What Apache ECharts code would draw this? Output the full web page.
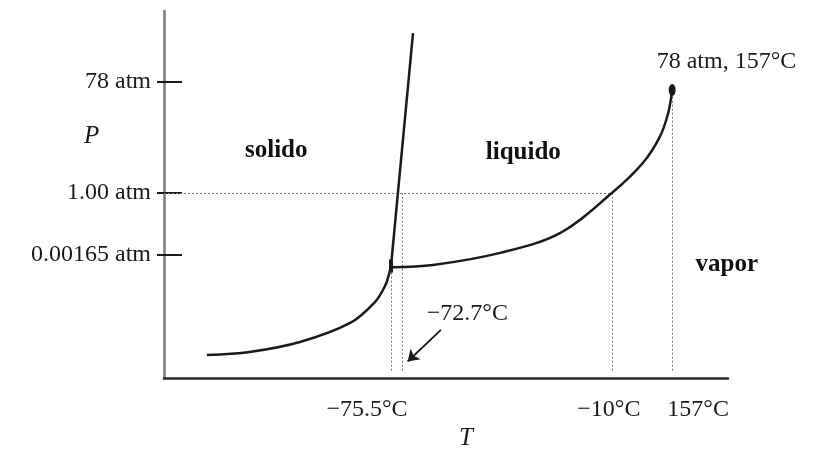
<!DOCTYPE html>
<html>
<head>
<meta charset="utf-8">
<script src="https://cdn.jsdelivr.net/npm/echarts@6/dist/echarts.min.js"></script>
<style>
  html, body { margin: 0; padding: 0; background: #fff; }
  #chart { width: 815px; height: 452px; }
</style>
</head>
<body>
<div id="chart"></div>
<script>
// schematic diagram: both axes use 0-100 "position" units, not real T / P
const tempLabels = ['\u221275.5\u00b0C', '\u221210\u00b0C', '157\u00b0C']
const tempPos = [40.25, 79.4, 90.1]
const meltLabel = '\u221272.7\u00b0C'
const meltPos = 42.2
const pressLabels = ['0.00165 atm', '1.00 atm', '78 atm']
const pressPos = [33.5, 50.4, 80.65]

const sublimation = [[7.6, 6.3], [15.2, 7.1], [24.1, 9.8], [33.0, 15.0], [37.4, 20.7], [39.2, 25.1], [39.9, 28.3], [40.25, 30.5]]
const fusion = [[40.25, 30.5], [44.15, 94.0]]
const vaporization = [[40.4, 30.2], [47.7, 30.8], [59.6, 34.1], [70.2, 39.5], [79.4, 50.4], [84.9, 58.6], [87.9, 65.7], [89.4, 72.2], [90.1, 78.5]]
const triplePoint = [40.25, 30.5]
const criticalPoint = [90.1, 78.5]
const criticalLabel = '78 atm, 157\u00b0C'

const phaseNames = ['solido', 'liquido', 'vapor']
const phaseX = [19.9, 63.7, 99.8]
const phaseY = [62.1, 61.3, 30.8]

const serif = 'Liberation Serif'
const ink = '#1a1a1a'

const chartDom = document.getElementById('chart')
const myChart = echarts.init(chartDom)

// dotted guide lines
const guides = [
  [[0, pressPos[1]], [tempPos[1], pressPos[1]]],
  [[tempPos[0], 2], triplePoint],
  [[meltPos, 2], [meltPos, pressPos[1]]],
  [[tempPos[1], 2], [tempPos[1], pressPos[1]]],
  [[tempPos[2], 2], criticalPoint]
]

const pickLabel = (labels, pos, v) => {
  const i = pos.findIndex(p => Math.abs(p - v) < 1e-6)
  return i < 0 ? '' : labels[i]
}

const curve = (data) => ({
  type: 'line',
  data: data,
  smooth: 0.35,
  symbol: 'none',
  lineStyle: { color: ink, width: 2.5 },
  z: 3
})

const textLabel = (extra) => Object.assign({
  show: true,
  fontFamily: serif,
  fontSize: 24,
  color: ink,
  opacity: 1
}, extra)

const option = {
  animation: false,
  grid: { left: 164, top: 11, right: 87, bottom: 74 },
  xAxis: {
    type: 'value',
    min: 0,
    max: 100,
    splitLine: { show: false },
    axisTick: { show: false },
    axisLine: { lineStyle: { color: '#2a2a2a', width: 2.5 } },
    axisLabel: {
      customValues: tempPos,
      margin: 20,
      formatter: (v) => {
        const i = tempPos.findIndex(p => Math.abs(p - v) < 1e-6)
        return '{t' + i + '|' + tempLabels[i] + '}'
      },
      rich: {
        t0: { fontFamily: serif, fontSize: 24, color: ink, padding: [0, 48, 0, 0] },
        t1: { fontFamily: serif, fontSize: 24, color: ink, padding: [0, 6, 0, 0] },
        t2: { fontFamily: serif, fontSize: 24, color: ink, padding: [0, 0, 0, 52] }
      }
    }
  },
  yAxis: [
    {
      type: 'value',
      position: 'left',
      min: 0,
      max: 100,
      splitLine: { show: false },
      axisLine: { lineStyle: { color: '#7a7a7a', width: 2.5 } },
      axisTick: { customValues: pressPos, length: 7, lineStyle: { color: ink, width: 2 } },
      axisLabel: {
        customValues: pressPos,
        margin: 13,
        fontFamily: serif,
        fontSize: 24,
        color: ink,
        formatter: (v) => pickLabel(pressLabels, pressPos, v)
      }
    },
    {
      type: 'value',
      position: 'left',
      offset: 0,
      min: 0,
      max: 100,
      splitLine: { show: false },
      axisLine: { show: false },
      axisTick: { customValues: pressPos, inside: true, length: 18, lineStyle: { color: ink, width: 2 } },
      axisLabel: { show: false }
    }
  ],
  graphic: [
    { type: 'text', left: 84, top: 124, style: { text: 'P', font: 'italic 25px "Liberation Serif"', fill: ink } },
    { type: 'text', left: 459, top: 426, style: { text: 'T', font: 'italic 25px "Liberation Serif"', fill: ink } }
  ],
  series: [
    {
      type: 'lines',
      coordinateSystem: 'cartesian2d',
      data: guides.map(c => ({ coords: c })),
      lineStyle: { color: '#777', width: 1, type: [2, 2], opacity: 1 },
      z: 1
    },
    curve(sublimation),
    curve(fusion),
    curve(vaporization),
    {
      type: 'scatter',
      data: [triplePoint],
      symbol: 'rect',
      symbolSize: [4, 13],
      itemStyle: { color: ink, opacity: 1 },
      z: 4
    },
    {
      type: 'scatter',
      data: [criticalPoint],
      symbol: 'circle',
      symbolSize: [7, 12],
      itemStyle: { color: ink, opacity: 1 },
      label: textLabel({
        position: [-12, -22],
        align: 'left',
        verticalAlign: 'middle',
        formatter: criticalLabel
      }),
      z: 4
    },
    {
      type: 'lines',
      coordinateSystem: 'cartesian2d',
      data: [{ coords: [[49.1, 13.1], [43.2, 4.5]] }],
      symbol: ['none', 'arrow'],
      symbolSize: 11,
      lineStyle: { color: ink, width: 1.8, opacity: 1 },
      z: 3
    },
    {
      type: 'scatter',
      data: [[46.6, 17.4]],
      symbolSize: 0,
      itemStyle: { opacity: 1 },
      label: textLabel({
        position: 'right',
        distance: 0,
        formatter: meltLabel
      })
    },
    {
      type: 'scatter',
      data: phaseNames.map((n, i) => ({ name: n, value: [phaseX[i], phaseY[i]] })),
      symbolSize: 0,
      clip: false,
      itemStyle: { opacity: 1 },
      label: textLabel({
        position: 'inside',
        formatter: '{b}',
        fontWeight: 'bold',
        fontSize: 25,
        color: '#111'
      })
    }
  ]
}

option && myChart.setOption(option)
</script>
</body>
</html>
